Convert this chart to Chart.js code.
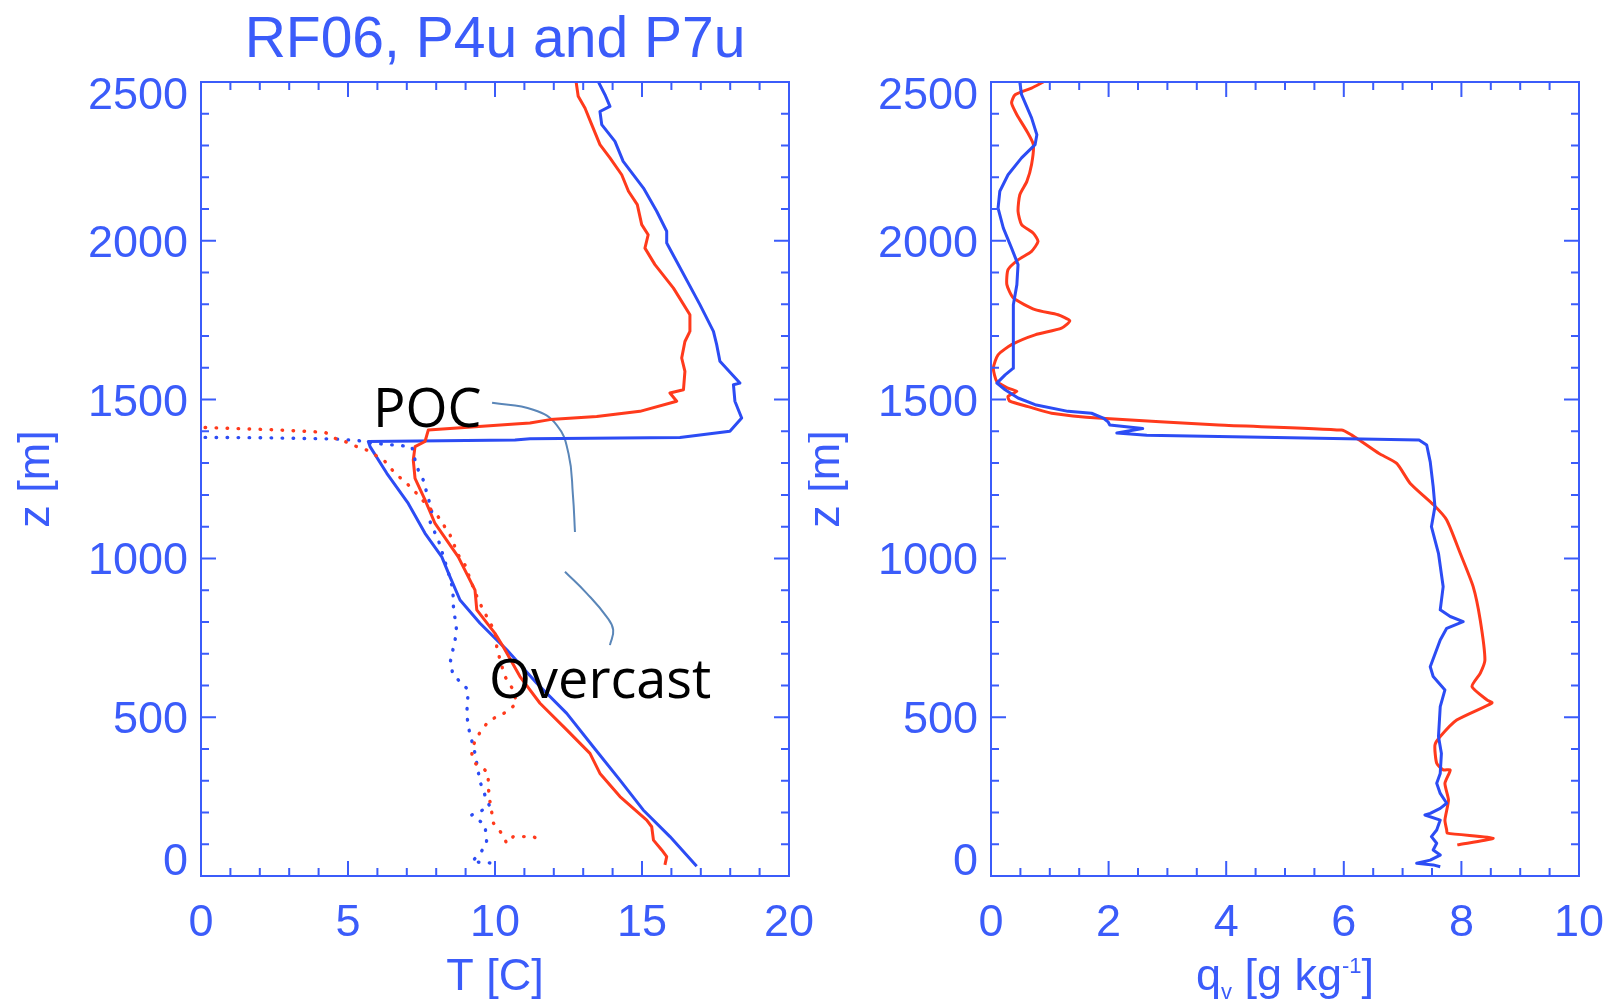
<!DOCTYPE html>
<html>
<head>
<meta charset="utf-8">
<title>RF06, P4u and P7u</title>
<script src="https://cdn.jsdelivr.net/npm/chart.js@4.4.1/dist/chart.umd.min.js"></script>
<style>
  html, body { margin: 0; padding: 0; background: #fff; }
  #wrap { position: relative; width: 1616px; height: 1003px; overflow: hidden; }
  canvas { position: absolute; top: 0; }
  #tempChart { left: 0; }
  #qvChart { left: 808px; }
</style>
</head>
<body>
<div id="wrap">
  <canvas id="tempChart" width="880" height="1003"></canvas>
  <canvas id="qvChart" width="808" height="1003"></canvas>
</div>
<script>
// Temperature profiles, blue leg [z in m, T in C]
const tBlueZ = [2500, 2460, 2423, 2407, 2366, 2313, 2250, 2166, 2093, 2030, 1993, 1935, 1799, 1715, 1673, 1621,
  1552, 1547, 1495, 1442, 1400, 1381, 1377, 1373, 1368, 1352, 1268, 1173, 1079, 1005, 942, 869, 796, 712, 607,
  512, 407, 302, 208, 124, 31];
const tBlue = [13.52, 13.74, 13.91, 13.57, 13.63, 14.08, 14.36, 15.05, 15.50, 15.84, 15.84, 16.18, 16.97, 17.43,
  17.54, 17.65, 18.33, 18.11, 18.16, 18.39, 17.99, 16.29, 11.19, 10.68, 5.69, 5.75, 6.32, 7.05, 7.62, 8.19, 8.47,
  8.81, 9.49, 10.40, 11.42, 12.44, 13.34, 14.25, 15.04, 15.95, 16.86];

// red leg
const tRedZ = [2500, 2455, 2418, 2366, 2303, 2261, 2208, 2156, 2114, 2051, 2019, 1977, 1925, 1851, 1767, 1715,
  1683, 1631, 1589, 1531, 1521, 1495, 1463, 1447, 1437, 1426, 1423, 1404, 1368, 1352, 1310, 1252, 1184, 1110,
  1005, 900, 838, 764, 722, 628, 544, 460, 386, 323, 250, 176, 155, 113, 82, 61, 35];
const tRed = [12.76, 12.83, 13.06, 13.29, 13.57, 13.91, 14.31, 14.54, 14.84, 14.99, 15.21, 15.10, 15.44, 16.07,
  16.63, 16.63, 16.46, 16.35, 16.46, 16.41, 15.95, 16.18, 14.93, 13.46, 11.87, 11.19, 10.68, 7.73, 7.62, 7.28,
  7.22, 7.28, 7.62, 7.96, 8.75, 9.32, 9.38, 10.00, 10.28, 10.85, 11.53, 12.44, 13.23, 13.57, 14.25, 15.16, 15.33,
  15.39, 15.67, 15.84, 15.78];

// dew point (dotted)
const tdBlueZ = [1381, 1380, 1376, 1371, 1364, 1352, 1310, 1278, 1247, 1189, 1152, 1116, 1050, 960, 916, 879,
  853, 769, 670, 633, 586, 512, 470, 386, 297, 239, 218, 192, 161, 103, 71, 45, 40];
const tdBlue = [0.14, 2.0, 4.56, 5.35, 5.69, 7.17, 7.28, 7.39, 7.56, 7.73, 7.85, 7.79, 8.10, 8.40, 8.53, 8.58,
  8.58, 8.70, 8.47, 8.58, 9.09, 9.04, 9.09, 9.32, 9.49, 9.72, 9.83, 9.21, 9.66, 9.72, 9.49, 9.21, 10.0];

const tdRedZ = [1412, 1405, 1397, 1378, 1368, 1354, 1341, 1326, 1305, 1268, 1236, 1210, 1163, 1131, 1074, 1011,
  979, 921, 869, 827, 769, 722, 680, 628, 586, 544, 517, 502, 486, 460, 428, 386, 355, 339, 323, 281, 234, 166,
  134, 103, 124, 124, 124, 113];
const tdRed = [0.14, 2.5, 4.22, 4.56, 4.90, 5.24, 5.64, 5.92, 6.26, 6.60, 7.00, 7.28, 7.73, 8.07, 8.47, 8.75, 8.98,
  9.21, 9.43, 9.66, 10.00, 10.06, 10.17, 10.34, 10.62, 10.74, 10.40, 10.06, 9.77, 9.55, 9.32, 9.21, 9.32, 9.60,
  9.77, 9.77, 9.83, 9.95, 10.23, 10.40, 10.62, 10.96, 11.30, 11.53];

// Water vapour mixing ratio [g/kg]
const qvBlueZ = [2500, 2460, 2387, 2334, 2303, 2261, 2208, 2156, 2103, 2040, 1977, 1925, 1862, 1799, 1673, 1599,
  1578, 1552, 1531, 1505, 1484, 1463, 1457, 1442, 1430, 1420, 1409, 1395, 1388, 1373, 1357, 1304, 1226, 1163,
  1100, 1016, 911, 838, 817, 801, 780, 743, 659, 628, 586, 533, 439, 386, 323, 292, 260, 229, 213, 197, 192, 176,
  145, 124, 103, 82, 66, 50, 40, 35, 29];
const qvBlue = [0.49, 0.52, 0.69, 0.78, 0.75, 0.52, 0.29, 0.15, 0.12, 0.21, 0.35, 0.46, 0.44, 0.38, 0.38, 0.38,
  0.24, 0.10, 0.24, 0.46, 0.75, 1.31, 1.71, 1.91, 1.99, 2.02, 2.58, 2.14, 2.65, 7.28, 7.41, 7.47, 7.52, 7.55,
  7.49, 7.61, 7.69, 7.64, 7.81, 8.03, 7.75, 7.64, 7.47, 7.52, 7.72, 7.64, 7.61, 7.66, 7.64, 7.58, 7.64, 7.75,
  7.64, 7.47, 7.38, 7.64, 7.58, 7.49, 7.58, 7.52, 7.64, 7.47, 7.24, 7.52, 7.64];

const qvRedZ = [2500, 2481, 2460, 2434, 2397, 2345, 2303, 2240, 2187, 2145, 2093, 2051, 2024, 1998, 1967, 1940,
  1909, 1862, 1820, 1783, 1767, 1748, 1725, 1704, 1673, 1641, 1599, 1557, 1536, 1526, 1510, 1495, 1478, 1457,
  1441, 1420, 1404, 1389, 1368, 1330, 1299, 1236, 1168, 1121, 1016, 911, 806, 680, 638, 596, 554, 545, 491, 439,
  412, 355, 334, 334, 292, 239, 176, 145, 135, 119, 98];
const qvRed = [0.89, 0.69, 0.41, 0.35, 0.44, 0.61, 0.72, 0.69, 0.61, 0.49, 0.46, 0.52, 0.72, 0.80, 0.69, 0.46,
  0.29, 0.27, 0.38, 0.75, 1.14, 1.34, 1.20, 0.75, 0.35, 0.12, 0.04, 0.10, 0.29, 0.44, 0.29, 0.32, 0.63, 1.03,
  1.88, 3.87, 5.96, 6.13, 6.30, 6.60, 6.90, 7.13, 7.53, 7.75, 7.98, 8.20, 8.32, 8.40, 8.32, 8.18, 8.44, 8.52,
  7.92, 7.64, 7.55, 7.58, 7.69, 7.81, 7.72, 7.78, 7.72, 7.75, 7.76, 8.54, 7.93];

// leader lines for the POC / Overcast labels
const pocLeadZ = [1490, 1468, 1420, 1330, 1200, 1083];
const pocLeadT = [9.90, 11.30, 12.10, 12.50, 12.65, 12.72];
const ovcLeadZ = [958, 890, 816, 775, 727];
const ovcLeadT = [12.38, 13.12, 13.80, 14.02, 13.91];

const axisColor = '#3b5cfa';
const blueLine = '#2c4cf4';
const redLine = '#ff3a1c';
const leadColor = '#5a86b8';
const idlFont = '"Liberation Sans", Arial, Helvetica, sans-serif';

function pts(xs, zs) {
  return xs.map((v, i) => ({ x: v, y: zs[i] }));
}

function solid(xs, zs, color, tension) {
  return {
    data: pts(xs, zs), borderColor: color, borderWidth: 3, pointRadius: 0, showLine: true,
    tension: tension || 0, borderJoinStyle: 'round'
  };
}

function dotted(xs, zs, color) {
  return {
    data: pts(xs, zs), borderColor: color, borderWidth: 3.4, pointRadius: 0, showLine: true, tension: 0,
    borderDash: [0.5, 10.5], borderCapStyle: 'round'
  };
}

// IDL-style box frame: inward ticks on every side, labels drawn by hand
function idlFrame(opt) {
  return {
    id: 'idlFrame',
    afterDraw(chart) {
      const { ctx, chartArea: a, scales: { x, y } } = chart;
      ctx.save();
      ctx.strokeStyle = axisColor;
      ctx.fillStyle = axisColor;
      ctx.lineWidth = 2;
      ctx.strokeRect(a.left, a.top, a.right - a.left, a.bottom - a.top);

      const isMajor = (v, m) => Math.abs(v / m - Math.round(v / m)) < 1e-6;
      ctx.beginPath();
      const nx = Math.round((x.max - x.min) / opt.xMinor);
      for (let i = 1; i < nx; i++) {
        const v = x.min + i * opt.xMinor;
        const px = x.getPixelForValue(v);
        const len = isMajor(v, opt.xMajor) ? 15 : 8;
        ctx.moveTo(px, a.bottom); ctx.lineTo(px, a.bottom - len);
        ctx.moveTo(px, a.top); ctx.lineTo(px, a.top + len);
      }
      const ny = Math.round((y.max - y.min) / opt.yMinor);
      for (let i = 1; i < ny; i++) {
        const v = y.min + i * opt.yMinor;
        const py = y.getPixelForValue(v);
        const len = isMajor(v, opt.yMajor) ? 15 : 8;
        ctx.moveTo(a.left, py); ctx.lineTo(a.left + len, py);
        ctx.moveTo(a.right, py); ctx.lineTo(a.right - len, py);
      }
      ctx.stroke();

      ctx.font = '45px ' + idlFont;
      ctx.textBaseline = 'alphabetic';
      ctx.textAlign = 'center';
      for (let v = x.min; v <= x.max + 1e-9; v += opt.xMajor) {
        ctx.fillText(String(Math.round(v)), x.getPixelForValue(v), 936);
      }
      ctx.textAlign = 'right';
      for (let v = y.min; v <= y.max + 1e-9; v += opt.yMajor) {
        let cy = y.getPixelForValue(v);
        cy = Math.min(Math.max(cy, a.top + 10.5), a.bottom - 17);
        ctx.fillText(String(v), a.left - 13, cy + 16);
      }

      // z [m], rotated
      ctx.save();
      ctx.translate(a.left - 152, (a.top + a.bottom) / 2);
      ctx.rotate(-Math.PI / 2);
      ctx.textAlign = 'center';
      ctx.fillText('z [m]', 0, 0);
      ctx.restore();

      opt.extra(ctx, a, x, y);
      ctx.restore();
    }
  };
}

const tempChart = new Chart(document.getElementById('tempChart'), {
  type: 'scatter',
  data: {
    datasets: [
      dotted(tdRed, tdRedZ, redLine),
      dotted(tdBlue, tdBlueZ, blueLine),
      solid(tRed, tRedZ, redLine),
      solid(tBlue, tBlueZ, blueLine),
      { data: pts(pocLeadT, pocLeadZ), borderColor: leadColor, borderWidth: 2, pointRadius: 0, showLine: true, tension: 0.45 },
      { data: pts(ovcLeadT, ovcLeadZ), borderColor: leadColor, borderWidth: 2, pointRadius: 0, showLine: true, tension: 0.45 }
    ]
  },
  options: {
    responsive: false,
    animation: false,
    layout: { padding: { left: 201, right: 91, top: 82, bottom: 127 } },
    plugins: { legend: { display: false }, tooltip: { enabled: false } },
    scales: {
      x: { type: 'linear', min: 0, max: 20, display: false },
      y: { type: 'linear', min: 0, max: 2500, display: false }
    }
  },
  plugins: [idlFrame({
    xMajor: 5, xMinor: 1, yMajor: 500, yMinor: 100,
    extra(ctx, a, x, y) {
      ctx.textAlign = 'center';
      ctx.fillText('T [C]', (a.left + a.right) / 2, 990);
      ctx.font = '57px ' + idlFont;
      ctx.fillText('RF06, P4u and P7u', (a.left + a.right) / 2, 57);

      ctx.fillStyle = '#000';
      ctx.font = '54px "Open Sans", "Noto Sans", sans-serif';
      ctx.textAlign = 'left';
      ctx.fillText('POC', x.getPixelForValue(5.85), y.getPixelForValue(1414));
      ctx.fillText('Overcast', x.getPixelForValue(9.80), y.getPixelForValue(560));
    }
  })]
});

const qvChart = new Chart(document.getElementById('qvChart'), {
  type: 'scatter',
  data: {
    datasets: [
      solid(qvBlue, qvBlueZ, blueLine),
      solid(qvRed, qvRedZ, redLine, 0.2)
    ]
  },
  options: {
    responsive: false,
    animation: false,
    layout: { padding: { left: 183, right: 37, top: 82, bottom: 127 } },
    plugins: { legend: { display: false }, tooltip: { enabled: false } },
    scales: {
      x: { type: 'linear', min: 0, max: 10, display: false },
      y: { type: 'linear', min: 0, max: 2500, display: false }
    }
  },
  plugins: [idlFrame({
    xMajor: 2, xMinor: 0.5, yMajor: 500, yMinor: 100,
    extra(ctx, a) {
      // q_v [g kg^-1] with sub/superscript
      const big = '45px ' + idlFont, small = '22px ' + idlFont;
      const parts = [
        { t: 'q', f: big, dy: 0 },
        { t: 'v', f: small, dy: 9 },
        { t: ' [g kg', f: big, dy: 0 },
        { t: '-1', f: small, dy: -17 },
        { t: ']', f: big, dy: 0 }
      ];
      let w = 0;
      parts.forEach(p => { ctx.font = p.f; p.w = ctx.measureText(p.t).width; w += p.w; });
      let cx = (a.left + a.right) / 2 - w / 2;
      ctx.textAlign = 'left';
      parts.forEach(p => { ctx.font = p.f; ctx.fillText(p.t, cx, 990 + p.dy); cx += p.w; });
    }
  })]
});
</script>
</body>
</html>
